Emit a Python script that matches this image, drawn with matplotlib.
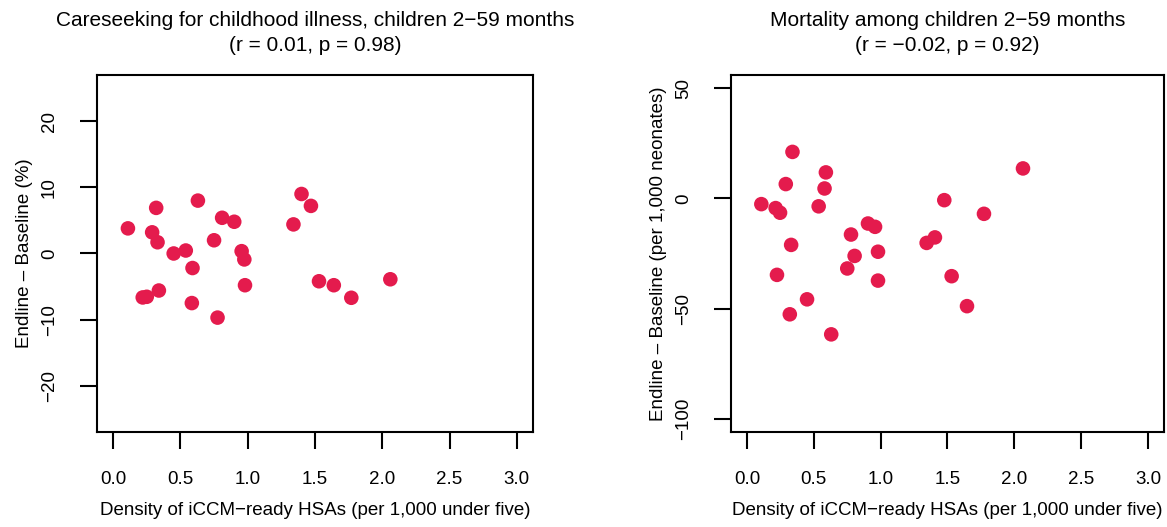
import matplotlib
matplotlib.use("Agg")
import matplotlib.pyplot as plt

# careseeking panel (change in %)
care_x = [0.11, 0.32, 0.29, 0.33, 0.45, 0.54, 0.59, 0.63, 0.75, 0.81, 0.90, 0.955, 0.975,
          0.98, 0.22, 0.25, 0.34, 0.585, 0.776, 1.40, 1.47, 1.34, 1.53, 1.64, 1.77, 2.06]
care_y = [3.8, 6.9, 3.2, 1.7, 0.0, 0.45, -2.2, 8.0, 2.0, 5.4, 4.8, 0.35, -0.9,
          -4.8, -6.65, -6.55, -5.6, -7.5, -9.7, 9.0, 7.2, 4.4, -4.2, -4.8, -6.7, -3.9]

# mortality panel (change per 1,000)
mort_x = [0.34, 0.59, 0.58, 0.29, 0.107, 0.214, 0.247, 0.536, 0.33, 0.224, 0.449, 0.32, 0.63,
          0.778, 0.905, 0.958, 0.805, 0.98, 0.75, 0.98, 1.344, 1.406, 1.476, 1.773, 1.531,
          1.646, 2.065]
mort_y = [21.1, 11.8, 4.5, 6.5, -2.6, -4.4, -6.5, -3.6, -21.1, -34.7, -45.8, -52.6, -61.7,
          -16.4, -11.4, -12.9, -26.1, -24.2, -31.8, -37.3, -20.2, -17.7, -0.8, -7.0, -35.3,
          -48.9, 13.6]

x_ticks = [0.0, 0.5, 1.0, 1.5, 2.0, 2.5, 3.0]
care_ticks = [-20, -10, 0, 10, 20]
mort_ticks = [-100, -50, 0, 50]

titles = ["Careseeking for childhood illness, children 2\u221259 months\n(r = 0.01, p = 0.98)",
          "Mortality among children 2\u221259 months\n(r = \u22120.02, p = 0.92)"]
ylabels = ["Endline \u2013 Baseline (%)", "Endline \u2013 Baseline (per 1,000 neonates)"]
xlabel = "Density of iCCM\u2212ready HSAs (per 1,000 under five)"

plt.rcParams["font.family"] = ["Liberation Sans", "DejaVu Sans"]
plt.rcParams["font.size"] = 13.5
dot_color = "#E41B4D"

fig = plt.figure(figsize=(11.67, 5.27), dpi=100)
ax1 = fig.add_axes([0.0831, 0.1803, 0.3736, 0.6774])
ax2 = fig.add_axes([0.6264, 0.1803, 0.3710, 0.6774])

panels = [
    (ax1, care_x, care_y, care_ticks, (-27, 27)),
    (ax2, mort_x, mort_y, mort_ticks, (-106, 56)),
]
for i, (ax, xs, ys, yt, ylim) in enumerate(panels):
    ax.scatter(xs, ys, s=110, color=dot_color, edgecolors="none", zorder=3)
    ax.set_xlim(-0.12, 3.12)
    ax.set_ylim(*ylim)
    ax.set_xticks(x_ticks)
    ax.set_xticklabels([f"{t:.1f}" for t in x_ticks])
    ax.set_yticks(yt)
    ax.set_yticklabels([str(t).replace("-", "\u2212") for t in yt], rotation=90, va="center")
    ax.tick_params(length=12, width=1.5, pad=16, labelsize=13.5)
    for sp in ax.spines.values():
        sp.set_linewidth(1.5)
    ax.set_title(titles[i], fontsize=15, pad=17, linespacing=1.4)
    ax.set_xlabel(xlabel, labelpad=10)
    ax.set_ylabel(ylabels[i], labelpad=6)

fig.savefig("out.png", dpi=100)
